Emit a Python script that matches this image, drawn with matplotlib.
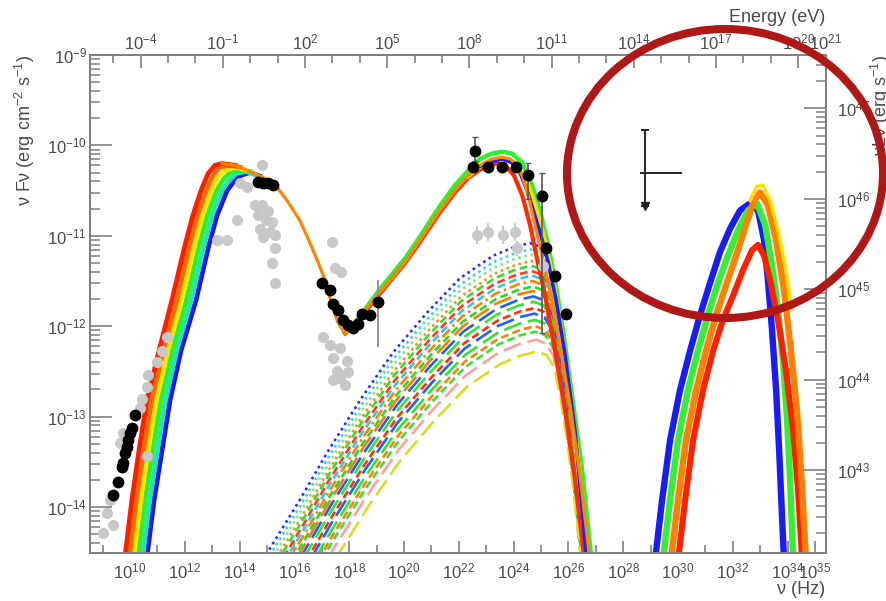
import numpy as np
import matplotlib
matplotlib.use('Agg')
import matplotlib.pyplot as plt
from matplotlib.patches import Ellipse
from matplotlib.ticker import FixedLocator, FixedFormatter, NullFormatter, LogLocator

plt.rcParams['font.family'] = ['Liberation Sans', 'DejaVu Sans']
plt.rcParams['mathtext.fontset'] = 'custom'
plt.rcParams['mathtext.rm'] = 'Liberation Sans'
plt.rcParams['mathtext.it'] = 'Liberation Sans:italic'
plt.rcParams['mathtext.bf'] = 'Liberation Sans:bold'

# ================= DATA (log10 nu [Hz], log10 nuFnu [erg cm^-2 s^-1]) =================
# synchrotron rainbow (rising part) : common flux levels, per-model frequencies
sync_logF_levels = [-14.64, -13.92, -13.37, -12.82, -12.27, -11.71, -11.10, -10.77, -10.50]
sync_rise_red    = [9.78, 10.07, 10.33, 10.62, 11.06, 11.53, 12.01, 12.30, 12.59]
sync_rise_orange = [9.94, 10.23, 10.50, 10.79, 11.22, 11.71, 12.18, 12.47, 12.78]
sync_rise_yellow = [10.10, 10.39, 10.66, 10.96, 11.38, 11.88, 12.36, 12.65, 12.97]
sync_rise_green  = [10.26, 10.55, 10.83, 11.12, 11.54, 12.06, 12.53, 12.82, 13.16]
sync_rise_cyan   = [10.42, 10.72, 11.00, 11.29, 11.70, 12.23, 12.71, 13.00, 13.35]
sync_rise_blue   = [10.58, 10.88, 11.17, 11.46, 11.86, 12.41, 12.88, 13.18, 13.54]
# near-peak part of each synchrotron model
sync_top_red_nu    = [12.85, 13.10, 13.36, 13.83]; sync_top_red_F    = [-10.31, -10.22, -10.20, -10.22]
sync_top_orange_nu = [13.03, 13.28, 13.65, 14.01]; sync_top_orange_F = [-10.33, -10.24, -10.22, -10.24]
sync_top_yellow_nu = [13.21, 13.50, 13.87, 14.20]; sync_top_yellow_F = [-10.35, -10.27, -10.24, -10.27]
sync_top_green_nu  = [13.39, 13.69, 14.05, 14.38]; sync_top_green_F  = [-10.38, -10.29, -10.27, -10.29]
sync_top_cyan_nu   = [13.58, 13.87, 14.23, 14.56]; sync_top_cyan_F   = [-10.40, -10.31, -10.29, -10.32]
sync_top_blue_nu   = [13.76, 14.05, 14.38, 14.74]; sync_top_blue_F   = [-10.41, -10.33, -10.30, -10.34]

# common SSC model (orange): synchrotron tail, dip, IC bump
main_lognu = [13.36, 13.83, 14.38, 14.82, 15.29, 15.73, 16.20, 16.57, 16.86, 17.12, 17.37, 17.59, 17.85,
              18.10, 18.39, 18.65, 19.12, 19.60, 20.04, 20.58, 21.31, 21.86, 22.34, 22.77, 23.21, 23.58,
              23.87, 24.09, 24.31, 24.53, 24.78, 25.04, 25.33, 25.69, 26.06, 26.42, 26.72, 26.79]
main_logF = [-10.20, -10.22, -10.29, -10.35, -10.43, -10.61, -10.83, -11.08, -11.29, -11.49, -11.77, -11.96, -12.08,
             -12.02, -11.91, -11.80, -11.62, -11.46, -11.29, -11.05, -10.72, -10.50, -10.33, -10.22, -10.15, -10.13,
             -10.15, -10.20, -10.33, -10.55, -10.88, -11.22, -11.62, -12.21, -12.87, -13.65, -14.42, -14.64]

# IC model variants
ic_green_nu = [17.85, 18.39, 19.12, 20.04, 20.58, 21.31, 21.86, 22.34, 22.77, 23.21, 23.58, 23.94, 24.31, 24.67,
               24.96, 25.22, 25.51, 25.80, 26.13, 26.50, 26.86]
ic_green_F = [-12.07, -11.89, -11.59, -11.25, -11.01, -10.67, -10.44, -10.28, -10.15, -10.09, -10.07, -10.09, -10.19,
              -10.44, -10.72, -11.05, -11.49, -12.04, -12.76, -13.59, -14.64]
ic_red_nu = [17.85, 18.39, 19.12, 20.04, 20.58, 21.31, 21.86, 22.34, 22.77, 23.14, 23.43, 23.72, 24.01, 24.31,
             24.60, 24.85, 25.15, 25.51, 25.88, 26.24, 26.61]
ic_red_F = [-12.08, -11.91, -11.64, -11.30, -11.07, -10.74, -10.52, -10.36, -10.27, -10.21, -10.20, -10.23, -10.33,
            -10.55, -10.88, -11.25, -11.66, -12.27, -12.93, -13.70, -14.64]
ic_yellow_nu = [22.34, 22.77, 23.21, 23.58, 23.94, 24.23, 24.53, 24.78, 25.04, 25.33, 25.62, 25.95, 26.31, 26.72]
ic_yellow_F = [-10.34, -10.23, -10.17, -10.14, -10.18, -10.28, -10.44, -10.66, -10.94, -11.33, -11.82, -12.49,
               -13.37, -14.64]
ic_blue_nu = [22.77, 23.21, 23.58, 23.94, 24.23, 24.49, 24.74, 24.99, 25.26, 25.55, 25.88, 26.24, 26.68]
ic_blue_F = [-10.23, -10.18, -10.15, -10.19, -10.30, -10.50, -10.74, -10.99, -11.29, -11.71, -12.32, -13.15, -14.64]

# IC components (dashed / dotted): shape of the top component plus per-component offsets
comp_shape_lognu = [14.84, 15.00, 16.20, 17.19, 18.39, 19.60, 20.84, 22.04, 23.25, 24.05, 24.60, 24.96, 25.22,
                    25.44, 25.69, 25.95, 26.20, 26.50, 26.57]
comp_shape_logF = [-14.59, -14.51, -13.92, -13.40, -12.82, -12.29, -11.85, -11.47, -11.22, -11.12, -11.08, -11.12,
                   -11.25, -11.55, -12.04, -12.65, -13.37, -14.36, -14.64]
comp_dlogF = [0.00, -0.07, -0.13, -0.20, -0.25, -0.31, -0.36, -0.42, -0.48, -0.53, -0.59, -0.65, -0.72, -0.78,
              -0.85, -0.92, -0.98, -1.07, -1.20]
comp_dlognu = [0.00, 0.01, 0.03, 0.04, 0.05, 0.06, 0.08, 0.09, 0.10, 0.11, 0.12, 0.14, 0.15, 0.16, 0.18, 0.19,
               0.20, 0.22, 0.25]
comp_colors = ['#2a2aff', '#33d6e6', '#7aee7a', '#ff8c1a', '#2fe02f', '#ff3b1a', '#36c8e0', '#ff8000',
               '#22dd22', '#ff7a00', '#1f5fff', '#33e633', '#ff3300', '#2060ff', '#2ee62e', '#ff8000',
               '#3ae03a', '#ffa0a0', '#d9dd20']
comp_styles = ['dot', 'dot', 'dot', 'dot', 'dash', 'dash', 'dash', 'dashdot', 'dash', 'long', 'long', 'long',
               'dash', 'long', 'long', 'dash', 'dash', 'long', 'long']

# hadronic / gamma bump at highest frequencies (rainbow)
hb_blue_nu = [29.16, 29.42, 29.71, 30.07, 30.44, 30.80, 31.17, 31.53, 31.90, 32.26, 32.63, 32.92, 33.14, 33.28,
              33.43, 33.58, 33.69, 33.80, 33.87]
hb_blue_F = [-14.59, -13.92, -13.26, -12.71, -12.27, -11.88, -11.52, -11.18, -10.92, -10.72, -10.64, -10.72,
             -11.05, -11.49, -12.04, -12.71, -13.37, -14.14, -14.59]
hb_green_nu = [29.45, 29.71, 30.00, 30.36, 30.73, 31.09, 31.46, 31.82, 32.19, 32.55, 32.88, 33.18, 33.43, 33.65,
               33.83, 33.98, 34.09, 34.20]
hb_green_F = [-14.59, -13.92, -13.26, -12.71, -12.27, -11.88, -11.52, -11.22, -10.94, -10.72, -10.64, -10.88,
              -11.33, -11.82, -12.38, -13.04, -13.70, -14.59]
hb_red_nu = [30.00, 30.26, 30.55, 30.91, 31.28, 31.64, 32.01, 32.37, 32.70, 32.92, 33.14, 33.36, 33.65, 33.94,
             34.20, 34.38, 34.53]
hb_red_F = [-14.59, -13.92, -13.26, -12.71, -12.27, -11.93, -11.66, -11.38, -11.16, -11.10, -11.22, -11.49,
            -11.93, -12.49, -13.15, -13.81, -14.59]
hb_orange_nu = [29.74, 30.00, 30.29, 30.66, 31.02, 31.39, 31.75, 32.12, 32.48, 32.77, 32.99, 33.28, 33.58, 33.87,
                34.12, 34.34, 34.49, 34.67]
hb_orange_F = [-14.59, -13.92, -13.26, -12.71, -12.27, -11.88, -11.55, -11.22, -10.88, -10.61, -10.52, -10.66,
               -11.05, -11.60, -12.27, -12.93, -13.59, -14.59]
hb_yellow_nu = [32.63, 32.88, 33.10, 33.36, 33.65, 33.94, 34.16]
hb_yellow_F = [-10.61, -10.45, -10.44, -10.61, -10.94, -11.38, -11.82]

# archival data (grey)
grey_lognu = [11.35, 11.17, 10.99, 10.66, 10.62, 10.44, 10.36, 9.74, 9.64, 10.62, 9.27, 9.16, 9.38, 9.01,
              14.82, 14.27, 14.01, 14.56, 14.82, 15.04, 14.67, 14.96, 15.18, 14.74, 15.11, 15.29, 14.85,
              13.91, 13.54, 13.18, 15.29, 15.18, 15.29,
              17.37, 17.48, 17.70, 17.04, 17.30, 17.66, 17.41, 17.92, 17.55, 17.96, 17.66, 17.85, 17.41]
grey_logF = [-12.12, -12.27, -12.40, -12.54, -12.67, -12.80, -12.90, -13.18, -13.29, -13.43, -13.92, -14.07,
             -14.20, -14.29,
             -10.22, -10.46, -10.42, -10.66, -10.66, -10.72, -10.77, -10.83, -10.85, -10.92, -10.96, -10.99,
             -11.01, -10.83, -11.05, -11.05, -11.14, -11.30, -11.52,
             -11.07, -11.36, -11.40, -12.12, -12.21, -12.24, -12.35, -12.38, -12.49, -12.51, -12.57, -12.65,
             -12.60]
grey_gam_lognu = [22.66, 23.07, 23.61, 24.05, 24.12, 25.07]
grey_gam_logF = [-10.99, -10.96, -10.99, -10.96, -11.14, -11.33]
grey_gam_err = [0.10, 0.10, 0.10, 0.10, 0.08, 0.08]

# simultaneous data (black)
blk_lognu = [10.18, 10.07, 10.00, 9.93, 9.89, 9.82, 9.74, 9.71, 9.56, 9.38,
             14.67, 14.85, 15.04, 15.22,
             17.01, 17.30, 17.41, 17.59, 17.77, 17.96, 18.14, 18.32, 18.47, 18.76]
blk_logF = [-12.98, -13.13, -13.18, -13.26, -13.34, -13.40, -13.51, -13.56, -13.72, -13.87,
            -10.40, -10.42, -10.42, -10.44,
            -11.52, -11.60, -11.75, -11.82, -11.93, -11.99, -12.02, -11.97, -11.86, -11.88]
xray_hi_lognu = [19.05]; xray_hi_logF = [-11.73]; xray_hi_up = [0.24]; xray_hi_dn = [0.50]
gam_lognu = [22.59, 22.52, 23.07, 23.58, 24.09, 24.53, 25.04, 25.18, 25.51, 25.91]
gam_logF = [-10.06, -10.24, -10.24, -10.24, -10.24, -10.33, -10.56, -11.13, -11.44, -11.86]
gam_up = [0.15, 0.03, 0.03, 0.03, 0.03, 0.14, 0.26, 0.05, 0.05, 0.05]
gam_dn = [0.11, 0.03, 0.03, 0.03, 0.03, 0.26, 1.52, 0.05, 0.05, 0.05]

# upper limit (inside the circle)
ul_lognu = 28.80; ul_logF = -10.30
ul_up = 0.47; ul_dn = 0.37; ul_left = 0.19; ul_right = 1.35

# axis ranges / tick labels
x_range_log = (8.54, 35.40)
y_range_log = (-14.508, -9.0)
h_eV = 4.1357e-15
lum_factor_log = 56.59
x_label_exps = [10, 12, 14, 16, 18, 20, 22, 24, 26, 28, 30, 32, 34, 35]
y_label_exps = [-14, -13, -12, -11, -10, -9]
e_label_exps = [-4, -1, 2, 5, 8, 11, 14, 17, 20, 21]
l_label_exps = [43, 44, 45, 46, 47]

# ================= PLOT =================
W, H = 886, 601
fig = plt.figure(figsize=(W / 100, H / 100), dpi=100)
ax = fig.add_axes([90 / W, 1 - 553 / H, (826 - 90) / W, (553 - 55) / H])
ax.set_xscale('log'); ax.set_yscale('log')
ax.set_xlim(10 ** x_range_log[0], 10 ** x_range_log[1])
ax.set_ylim(10 ** y_range_log[0], 10 ** y_range_log[1])


def P(lx, ly, **kw):
    ax.plot(10 ** np.asarray(lx, float), 10 ** np.asarray(ly, float), **kw)


# IC components
style_map = {'dot': (0, (1.0, 1.4)), 'dash': (0, (3.0, 1.6)), 'dashdot': (0, (4, 1.5, 1, 1.5)),
             'long': (0, (7, 2.5))}
cs_nu = np.array(comp_shape_lognu); cs_F = np.array(comp_shape_logF)
for dF, dn, c, s in zip(comp_dlogF, comp_dlognu, comp_colors, comp_styles):
    P(cs_nu + dn, cs_F + dF, color=c, ls=style_map[s], lw=1.9, zorder=2)

# synchrotron rainbow
sync_sets = [(sync_rise_blue, sync_top_blue_nu, sync_top_blue_F, '#1414ff'),
             (sync_rise_cyan, sync_top_cyan_nu, sync_top_cyan_F, '#20e6b4'),
             (sync_rise_green, sync_top_green_nu, sync_top_green_F, '#2cf02c'),
             (sync_rise_yellow, sync_top_yellow_nu, sync_top_yellow_F, '#ffe600'),
             (sync_rise_orange, sync_top_orange_nu, sync_top_orange_F, '#ff6a00'),
             (sync_rise_red, sync_top_red_nu, sync_top_red_F, '#ff1e00')]
for rise, tnu, tF, c in sync_sets:
    P(list(rise) + tnu, sync_logF_levels + tF, color=c, lw=3.4, zorder=3, solid_joinstyle='round')

# IC rainbow variants
P(ic_green_nu, ic_green_F, color='#2ef02e', lw=3.2, zorder=3, solid_joinstyle='round')
P(ic_red_nu, ic_red_F, color='#ff2a00', lw=3.0, zorder=3, solid_joinstyle='round')
P(ic_yellow_nu, ic_yellow_F, color='#ffdc00', lw=3.4, zorder=3, solid_joinstyle='round')
P(ic_blue_nu, ic_blue_F, color='#1e1eff', lw=2.6, zorder=3, solid_joinstyle='round')
P(main_lognu, main_logF, color='#ff8400', lw=2.3, zorder=4, solid_joinstyle='round')

# highest-frequency bump
for nu_, F_, c, w in [(hb_blue_nu, hb_blue_F, '#1a1aff', 4.6), (hb_green_nu, hb_green_F, '#33f033', 4.6),
                      (hb_red_nu, hb_red_F, '#ff2000', 4.4), (hb_orange_nu, hb_orange_F, '#ff8000', 4.6),
                      (hb_yellow_nu, hb_yellow_F, '#ffe000', 2.5)]:
    P(nu_, F_, color=c, lw=w, zorder=3, solid_joinstyle='round')

# grey archival points
P(grey_lognu, grey_logF, ls='none', marker='o', ms=7, mfc='#c8c8c8', mec='#c8c8c8', zorder=5)
gF = 10 ** np.array(grey_gam_logF)
ge = np.array(grey_gam_err)
ax.errorbar(10 ** np.array(grey_gam_lognu), gF,
            yerr=[gF - 10 ** (np.array(grey_gam_logF) - ge), 10 ** (np.array(grey_gam_logF) + ge) - gF],
            fmt='o', ms=7, color='#c8c8c8', ecolor='#c8c8c8', elinewidth=1.5, zorder=5)

# black points
P(blk_lognu, blk_logF, ls='none', marker='o', ms=7.5, mfc='black', mec='black', zorder=7)
xF = 10 ** np.array(xray_hi_logF)
ax.errorbar(10 ** np.array(xray_hi_lognu), xF,
            yerr=[xF - 10 ** (np.array(xray_hi_logF) - np.array(xray_hi_dn)),
                  10 ** (np.array(xray_hi_logF) + np.array(xray_hi_up)) - xF],
            fmt='o', ms=7.5, color='black', ecolor='#8a8a8a', elinewidth=1.3, zorder=7)
bF = 10 ** np.array(gam_logF)
ax.errorbar(10 ** np.array(gam_lognu), bF,
            yerr=[bF - 10 ** (np.array(gam_logF) - np.array(gam_dn)),
                  10 ** (np.array(gam_logF) + np.array(gam_up)) - bF],
            fmt='o', ms=7.5, color='black', ecolor='#555555', elinewidth=1.2, capsize=2, zorder=7)

# upper limit
ulx = 10 ** ul_lognu; uly = 10 ** ul_logF
ax.errorbar([ulx], [uly], yerr=[[uly - 10 ** (ul_logF - ul_dn)], [10 ** (ul_logF + ul_up) - uly]],
            fmt='none', ecolor='#222222', elinewidth=1.4, capsize=3, capthick=1.4, zorder=8)
ax.errorbar([ulx], [uly], xerr=[[ulx - 10 ** (ul_lognu - ul_left)], [10 ** (ul_lognu + ul_right) - ulx]],
            fmt='none', ecolor='#222222', elinewidth=1.4, capsize=0, zorder=8)
P([ul_lognu], [ul_logF - ul_dn], ls='none', marker='v', ms=6, color='#222222', zorder=8)

# ---- axes styling ----
axc = '#808080'
tc = '#4a4a4a'
axt = ax.twiny()
axr = ax.twinx()
axt.set_xscale('log')
axt.set_xlim(10 ** (x_range_log[0] + np.log10(h_eV)), 10 ** (x_range_log[1] + np.log10(h_eV)))
axr.set_yscale('log')
axr.set_ylim(10 ** (y_range_log[0] + lum_factor_log), 10 ** (y_range_log[1] + lum_factor_log))

for a in (ax, axt, axr):
    for sp in a.spines.values():
        sp.set_color(axc)
        sp.set_linewidth(1.3)

ax.xaxis.set_major_locator(FixedLocator([10.0 ** k for k in x_label_exps]))
ax.xaxis.set_major_formatter(FixedFormatter(['$10^{%d}$' % k for k in x_label_exps]))
ax.xaxis.set_minor_locator(FixedLocator([10.0 ** k for k in range(9, 36, 2)]))
ax.xaxis.set_minor_formatter(NullFormatter())
ax.yaxis.set_major_locator(FixedLocator([10.0 ** k for k in y_label_exps]))
ax.yaxis.set_major_formatter(FixedFormatter(['$10^{%d}$' % k for k in y_label_exps]))
ax.yaxis.set_minor_locator(LogLocator(base=10, subs=np.arange(2, 10), numticks=100))
ax.yaxis.set_minor_formatter(NullFormatter())

axt.xaxis.set_major_locator(FixedLocator([10.0 ** k for k in e_label_exps]))
axt.xaxis.set_major_formatter(FixedFormatter(['$10^{%d}$' % k for k in e_label_exps]))
axt.xaxis.set_minor_locator(FixedLocator([10.0 ** k for k in range(-5, 21)]))
axt.xaxis.set_minor_formatter(NullFormatter())
axr.yaxis.set_major_locator(FixedLocator([10.0 ** k for k in l_label_exps]))
axr.yaxis.set_major_formatter(FixedFormatter(['$10^{%d}$' % k for k in l_label_exps]))
axr.yaxis.set_minor_locator(LogLocator(base=10, subs=np.arange(2, 10), numticks=100))
axr.yaxis.set_minor_formatter(NullFormatter())

ax.tick_params(axis='x', which='major', direction='in', length=9, width=1.2, color=axc,
               labelsize=12, labelcolor=tc, pad=6)
ax.tick_params(axis='x', which='minor', direction='in', length=5.5, width=1.2, color=axc)
ax.tick_params(axis='y', which='major', direction='in', length=16, width=1.2, color=axc,
               labelsize=12, labelcolor=tc, pad=2)
ax.tick_params(axis='y', which='minor', direction='in', length=7, width=1.1, color=axc)
axt.tick_params(axis='x', which='major', direction='in', length=9, width=1.2, color=axc,
                labelsize=12, labelcolor=tc, pad=2)
axt.tick_params(axis='x', which='minor', direction='in', length=5.5, width=1.2, color=axc)
axr.tick_params(axis='y', which='major', direction='in', length=16, width=1.2, color=axc,
                labelsize=12, labelcolor=tc, pad=8)
axr.tick_params(axis='y', which='minor', direction='in', length=7, width=1.1, color=axc)

# titles
fig.text(825 / W, 1 - 18 / H, 'Energy (eV)', ha='right', va='center', fontsize=13, color=tc)
fig.text(825 / W, 1 - 589 / H, 'ν (Hz)', ha='right', va='center', fontsize=13, color=tc)
fig.text(25 / W, 1 - 55 / H, 'ν Fν (erg cm$^{-2}$ s$^{-1}$)', rotation=90, ha='center', va='top',
         fontsize=13, color=tc)
fig.text(881 / W, 1 - 55 / H, 'νLν (erg s$^{-1}$)', rotation=90, ha='center', va='top',
         fontsize=13, color=tc)

# highlight circle
fig.add_artist(Ellipse((725 / W, 1 - 173.5 / H), 316 / W, 289 / H, transform=fig.transFigure,
                       fill=False, ec='#b01818', lw=5.8, zorder=20))

fig.savefig('out.png', dpi=100)
